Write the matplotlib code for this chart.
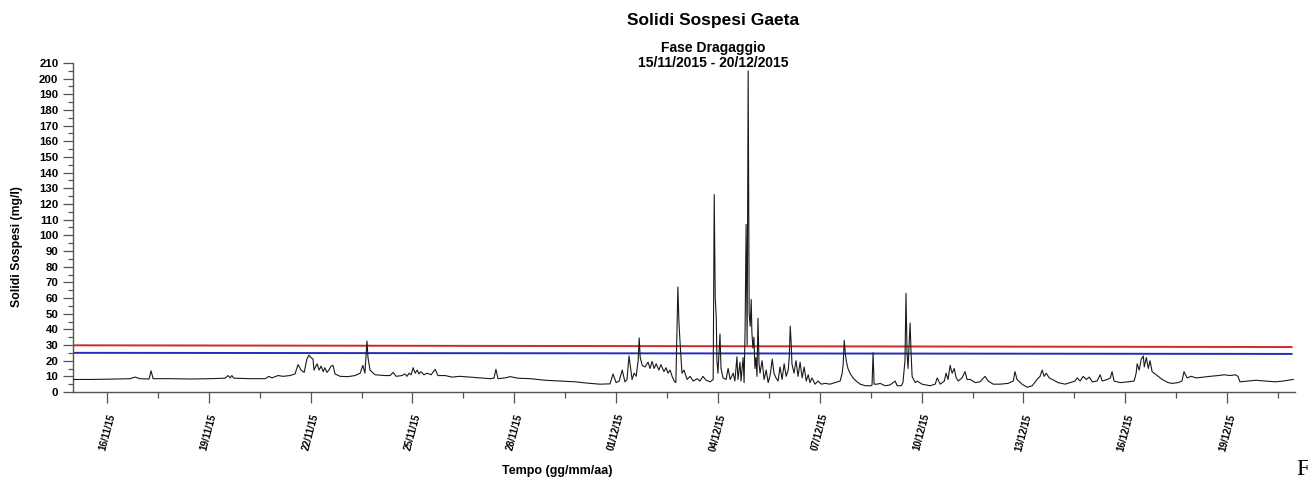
import matplotlib
matplotlib.use("Agg")
import matplotlib.pyplot as plt
import matplotlib.dates as mdates
import pandas as pd
import numpy as np

# ---------------- data ----------------
START = "2015-11-15 00:00"
END = "2015-12-21 00:00"

# days since 15/11/2015 00:00
days = [0, 0.50, 1.09, 1.68, 1.83, 1.97, 2.24, 2.30, 2.36, 2.86, 3.45, 4.04, 4.48, 4.57, 4.63,
        4.68, 4.74, 5.22, 5.66, 5.77, 5.86, 6.04, 6.19, 6.39, 6.54, 6.63, 6.72, 6.81, 6.89, 6.95,
        7.01, 7.07, 7.10, 7.19, 7.25, 7.31, 7.37, 7.42, 7.48, 7.54, 7.60, 7.66, 7.72, 7.87, 8.10,
        8.31, 8.46, 8.54, 8.60, 8.66, 8.69, 8.75, 8.90, 9.19, 9.34, 9.43, 9.52, 9.69, 9.78, 9.84,
        9.90, 9.96, 10.02, 10.08, 10.14, 10.19, 10.25, 10.34, 10.43, 10.55, 10.67, 10.75, 10.96,
        11.17, 11.40, 11.70, 11.99, 12.29, 12.40, 12.46, 12.52, 12.73, 12.88, 13.11, 13.47, 13.91,
        14.35, 14.79, 15.23, 15.53, 15.82, 15.91, 16.00, 16.09, 16.18, 16.26, 16.32, 16.38, 16.47,
        16.53, 16.59, 16.65, 16.68, 16.71, 16.77, 16.85, 16.94, 17.00, 17.06, 17.12, 17.18, 17.26,
        17.32, 17.41, 17.47, 17.53, 17.59, 17.65, 17.71, 17.76, 17.82, 17.85, 17.88, 17.94, 18.00,
        18.09, 18.18, 18.27, 18.39, 18.47, 18.56, 18.65, 18.77, 18.86, 18.89, 18.92, 18.95, 18.97,
        19.00, 19.06, 19.09, 19.15, 19.24, 19.30, 19.36, 19.45, 19.50, 19.56, 19.59, 19.65, 19.68,
        19.74, 19.77, 19.80, 19.83, 19.86, 19.89, 19.92, 19.95, 19.98, 20.00, 20.03, 20.06, 20.09,
        20.12, 20.15, 20.18, 20.21, 20.24, 20.30, 20.36, 20.42, 20.48, 20.54, 20.60, 20.65, 20.71,
        20.77, 20.83, 20.89, 20.95, 21.01, 21.07, 21.10, 21.13, 21.16, 21.18, 21.24, 21.30, 21.36,
        21.42, 21.48, 21.54, 21.60, 21.66, 21.71, 21.77, 21.86, 21.95, 22.04, 22.16, 22.30, 22.45,
        22.60, 22.66, 22.69, 22.72, 22.75, 22.78, 22.83, 22.89, 22.98, 23.07, 23.19, 23.34, 23.51,
        23.54, 23.57, 23.60, 23.69, 23.78, 23.92, 24.07, 24.22, 24.28, 24.40, 24.45, 24.51, 24.54,
        24.57, 24.60, 24.66, 24.69, 24.72, 24.81, 24.87, 25.01, 25.25, 25.40, 25.46, 25.55, 25.67,
        25.72, 25.78, 25.84, 25.90, 25.96, 26.02, 26.08, 26.19, 26.28, 26.34, 26.43, 26.58, 26.72,
        26.87, 26.96, 27.11, 27.31, 27.55, 27.70, 27.75, 27.81, 27.96, 28.11, 28.26, 28.40, 28.49,
        28.55, 28.61, 28.67, 28.76, 28.85, 29.02, 29.23, 29.38, 29.52, 29.58, 29.67, 29.76, 29.85,
        29.94, 30.03, 30.17, 30.26, 30.32, 30.47, 30.56, 30.61, 30.67, 30.85, 31.08, 31.26, 31.32,
        31.35, 31.41, 31.47, 31.53, 31.56, 31.62, 31.68, 31.73, 31.79, 31.85, 31.97, 32.09, 32.26,
        32.38, 32.56, 32.67, 32.73, 32.82, 32.94, 33.09, 33.29, 33.50, 33.74, 33.91, 34.09, 34.24,
        34.32, 34.38, 34.62, 34.86, 35.12, 35.42, 35.65, 35.80, 35.95]

solidi = [8, 8, 8.2, 8.5, 9.5, 8.5, 8.3, 13.5, 8.5, 8.5, 8.3, 8.5, 8.8, 10.5, 9,
          10.5, 8.8, 8.5, 8.5, 10, 9, 10.5, 10, 10.5, 11.5, 17.5, 14, 12.5, 21, 23.5,
          22, 21, 14, 18, 14, 16.5, 13, 15.5, 12.5, 14, 16.5, 17, 11.5, 10, 9.8,
          10.5, 12, 17, 12, 32.5, 22, 14, 11, 10.5, 10.5, 12.5, 10, 10.5, 11.5, 10,
          12, 11, 15.5, 12, 14, 11.5, 13, 11, 12, 11, 14.5, 10.5, 10.5,
          9.5, 10, 9.5, 9, 8.5, 8.8, 14.5, 8.5, 9, 9.8, 8.8, 8.5, 7.5,
          7, 6.5, 5.5, 5, 5.2, 11.5, 6, 7, 14, 6.5, 8, 23, 8,
          12, 10, 20, 34.5, 22, 17, 16, 19, 15, 19.5, 15, 18, 14,
          17.5, 13, 15.5, 12, 14, 10, 7, 6, 67, 45, 33, 12, 14,
          8, 10, 7, 8.5, 7, 10, 7.5, 6.5, 8, 126, 60, 48, 20,
          12, 37, 15, 9, 8, 15, 8, 12, 7, 22.5, 8, 19, 7,
          22, 6, 40, 107, 30, 205, 50, 42, 59, 38, 28, 35, 15,
          22, 10, 47, 18, 12, 20, 8, 14, 6, 11, 21, 12, 9,
          7, 16, 8, 18, 10, 14, 22, 42, 30, 18, 12, 20, 10,
          19, 9, 16, 7, 11, 6, 9, 5, 7, 5, 5.5, 5, 6,
          7, 12, 18, 33, 25, 20, 15, 12, 9, 7, 5, 4, 4,
          4.5, 25, 5, 5, 5.5, 4, 4.5, 7, 4, 4, 6, 20, 63,
          25, 15, 44, 25, 10, 6, 7, 5, 4, 5, 9, 5, 7,
          12, 8, 17, 12, 15, 9, 7, 9, 13, 8, 8, 6, 6.5,
          10, 7, 5, 5, 5.5, 7, 13, 8, 5, 3, 4, 8, 10,
          14, 10, 12, 9, 8, 6, 5, 6, 7, 9, 7, 10, 8,
          9.5, 6.5, 7, 11, 7, 8, 9, 13, 7, 6, 6.5, 7, 12,
          18, 14, 21, 23, 16, 22, 15, 20, 13, 12, 10, 8, 6,
          5.5, 6, 7, 13, 9, 10, 9, 9.5, 10, 10.5, 11, 10.5, 11,
          10, 6.5, 7, 7.5, 7, 6.5, 7, 7.5, 8]

# threshold lines (value at start, value at end)
soglia_rossa = [29.8, 28.7]
soglia_blu = [25.0, 24.3]
soglie_giorni = [0, 35.9]

y_ticks = list(range(0, 211, 10))

# ---------------- figure ----------------
FONT = "Liberation Sans"
W, H = 1308, 478
fig = plt.figure(figsize=(W / 100, H / 100), dpi=100)
ax = fig.add_axes([73 / W, (H - 392) / H, (1295 - 73) / W, (392 - 63) / H])

start = pd.Timestamp(START)
t = start + pd.to_timedelta(days, unit="D")
ax.plot(t, solidi, color="#1a1a1a", lw=0.8, zorder=3)

ts = start + pd.to_timedelta(soglie_giorni, unit="D")
ax.plot(ts, soglia_rossa, color="#cc2a2a", lw=1.4, zorder=2)
ax.plot(ts, soglia_blu, color="#2a2ab8", lw=1.4, zorder=2)

ax.set_xlim(start, pd.Timestamp(END))
ax.set_ylim(0, 210)

for s in ("top", "right"):
    ax.spines[s].set_visible(False)
for s in ("left", "bottom"):
    ax.spines[s].set_color("#555555")
    ax.spines[s].set_linewidth(1.0)

ax.set_yticks(y_ticks)
ax.yaxis.set_minor_locator(matplotlib.ticker.MultipleLocator(5))
ax.tick_params(axis="y", which="major", length=7.5, width=0.9, color="#555555", pad=3)
ax.tick_params(axis="y", which="minor", length=3.8, width=0.9, color="#555555")
for lbl in ax.get_yticklabels():
    lbl.set_fontfamily(FONT)
    lbl.set_fontweight("bold")
    lbl.set_fontsize(8.2)

major_dates = pd.date_range("2015-11-16", "2015-12-19", freq="3D")
minor_dates = pd.date_range("2015-11-16", "2015-12-20 12:00", freq="36h")
ax.xaxis.set_major_locator(matplotlib.ticker.FixedLocator(mdates.date2num(major_dates)))
ax.xaxis.set_minor_locator(matplotlib.ticker.FixedLocator(mdates.date2num(minor_dates)))
ax.xaxis.set_major_formatter(mdates.DateFormatter("%d/%m/%y"))
ax.tick_params(axis="x", which="major", length=8, width=0.9, color="#555555", pad=7)
ax.tick_params(axis="x", which="minor", length=4.3, width=0.9, color="#555555")
for lbl in ax.get_xticklabels():
    lbl.set_rotation(75)
    lbl.set_ha("center")
    lbl.set_va("top")
    lbl.set_fontfamily(FONT)
    lbl.set_fontweight("bold")
    lbl.set_fontsize(7)

fig.text(713 / W, 1 - 21 / H, "Solidi Sospesi Gaeta", ha="center", va="center",
         fontfamily=FONT, fontweight="bold", fontsize=12.5)
fig.text(713 / W, 1 - 48 / H, "Fase Dragaggio", ha="center", va="center",
         fontfamily=FONT, fontweight="bold", fontsize=10)
fig.text(713 / W, 1 - 63 / H, "15/11/2015 - 20/12/2015", ha="center", va="center",
         fontfamily=FONT, fontweight="bold", fontsize=10)

fig.text(17 / W, 1 - 247 / H, "Solidi Sospesi (mg/l)", rotation=90, ha="center", va="center",
         fontfamily=FONT, fontweight="bold", fontsize=8.8)
fig.text(557 / W, 1 - 471 / H, "Tempo (gg/mm/aa)", ha="center", va="center",
         fontfamily=FONT, fontweight="bold", fontsize=9)
fig.text(1296 / W, 1 - 459 / H, "F", ha="left", va="top",
         fontfamily="Liberation Serif", fontsize=17)

fig.savefig("out.png", dpi=100, facecolor="white")
